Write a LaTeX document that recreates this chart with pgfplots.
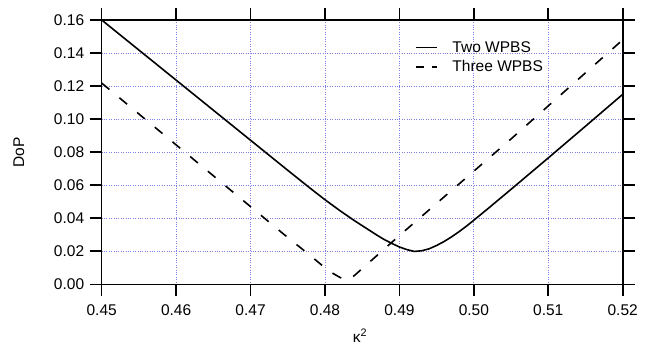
\documentclass[border=0pt]{standalone}
\usepackage{fontspec}
\setmainfont{Liberation Sans}
\usepackage{pgfplots}
\pgfplotsset{compat=1.18}
\definecolor{gridc}{RGB}{125,125,230}
\begin{document}
\begin{tikzpicture}
\useasboundingbox (-101.7pt,-60.7pt) rectangle (545.3pt,284.3pt);
\begin{axis}[
  scale only axis,
  width=521pt, height=264.3pt,
  xmin=0.45, xmax=0.52, ymin=0, ymax=0.16,
  xtick={0.45,0.46,...,0.52},
  ytick={0,0.02,...,0.16},
  xticklabels={0.45,0.46,0.47,0.48,0.49,0.50,0.51,0.52},
  yticklabels={0.00,0.02,0.04,0.06,0.08,0.10,0.12,0.14,0.16},
  tick align=outside,
  major tick length=12pt,
  tick style={line width=1.6pt, black},
  axis line style={line width=1.6pt},
  grid=major,
  major grid style={gridc, dotted, line width=0.7pt},
  /pgf/number format/assume math mode=true,
  tick label style={font=\fontsize{15.5}{18}\selectfont},
  xticklabel style={yshift=-5pt},
  yticklabel style={xshift=-2pt},
  every axis y label/.style={at={(axis description cs:-0.159,0.5)}, rotate=90, anchor=center},
  every axis x label/.style={at={(axis description cs:0.496,-0.219)}, anchor=base},
  label style={font=\fontsize{15.5}{18}\selectfont},
  xlabel={κ\textsuperscript{2}},
  ylabel={DoP},
  legend style={at={(rel axis cs:0.595,0.935)}, anchor=north west, draw=none, fill=none,
    font=\fontsize{15.5}{17.5}\selectfont, row sep=3pt,
    /tikz/every odd column/.append style={column sep=13pt}},
  legend cell align=left,
  legend image code/.code={\draw[#1] (0pt,0pt) -- (21pt,0pt);},
]
\addplot[black, line width=1.6pt] table {
0.450 0.1600
0.455 0.1418
0.460 0.1236
0.465 0.1054
0.470 0.0872
0.475 0.0690
0.478 0.0582
0.480 0.0512
0.482 0.0446
0.484 0.0384
0.486 0.0326
0.487 0.0297
0.488 0.0270
0.489 0.0247
0.490 0.0226
0.491 0.0210
0.492 0.0199
0.493 0.0203
0.494 0.0215
0.495 0.0235
0.496 0.0259
0.497 0.0287
0.498 0.0318
0.499 0.0352
0.500 0.0388
0.502 0.0462
0.505 0.0575
0.510 0.0765
0.515 0.0957
0.520 0.1150
};
\addlegendentry{Two WPBS}
\addplot[black, line width=1.6pt, dash pattern=on 10pt off 13pt,
  legend image post style={dash pattern=on 8pt off 8pt}] table {
0.450 0.1218
0.455 0.1031
0.460 0.0844
0.465 0.0657
0.470 0.0470
0.475 0.0283
0.478 0.0175
0.480 0.0100
0.481 0.0068
0.482 0.0042
0.4825 0.0032
0.483 0.0030
0.4835 0.0036
0.484 0.0055
0.485 0.0095
0.486 0.0135
0.488 0.0215
0.490 0.0295
0.495 0.0490
0.500 0.0685
0.505 0.0880
0.510 0.1080
0.515 0.1280
0.520 0.1480
};
\addlegendentry{Three WPBS}
\end{axis}
\end{tikzpicture}
\end{document}
